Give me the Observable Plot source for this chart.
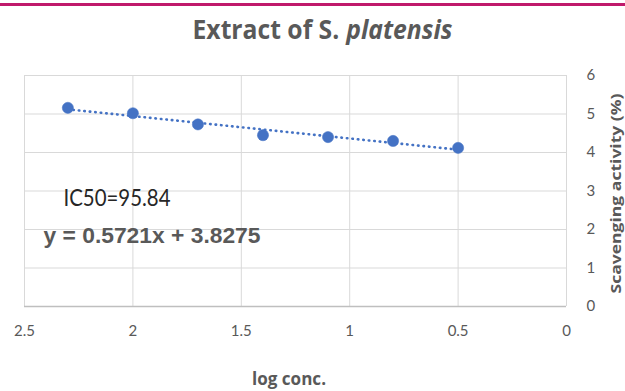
<!DOCTYPE html>
<html>
<head>
<meta charset="utf-8">
<script src="https://cdn.jsdelivr.net/npm/d3@7"></script>
<script src="https://cdn.jsdelivr.net/npm/@observablehq/plot@0.6"></script>
<style>
  html, body { margin: 0; padding: 0; background: #fff; }
  #wrap { position: relative; width: 625px; height: 391px; overflow: hidden; }
  #topline { position: absolute; left: 0; top: 3px; width: 625px; height: 3px; background: #C0196B; }
</style>
</head>
<body>
<div id="wrap"><div id="topline"></div></div>
<script>
// ---- data ----
const logConc = [2.3, 2.0, 1.7, 1.4, 1.1, 0.8, 0.5];
const scavenging = [5.16, 5.02, 4.73, 4.45, 4.40, 4.30, 4.12];
const xTicks = [2.5, 2, 1.5, 1, 0.5, 0];
const yTicks = [0, 1, 2, 3, 4, 5, 6];
const titleText = "Extract of S. platensis";
const titleParts = ["Extract of S.", "platensis"];
const xLabel = "log conc.";
const yLabel = "Scavenging activity (%)";
const ic50Label = "IC50=95.84";
const equationLabel = "y = 0.5721x + 3.8275";

const data = logConc.map((x, i) => ({x, y: scavenging[i]}));

const blue = "#4472C4";
const grey = "#595959";
const tickFont = "Lato, 'Open Sans', sans-serif";
const boldFont = "'Open Sans', sans-serif";

const chart = Plot.plot({
  width: 625,
  height: 391,
  marginLeft: 24,
  marginRight: 59,
  marginTop: 75,
  marginBottom: 85,
  style: {background: "transparent", overflow: "visible"},
  x: {domain: [2.5, 0], ticks: xTicks},
  y: {domain: [0, 6], ticks: yTicks},
  marks: [
    Plot.gridX(xTicks, {stroke: "#d9d9d9", strokeOpacity: 1, strokeWidth: 1}),
    Plot.gridY(yTicks, {stroke: "#d9d9d9", strokeOpacity: 1, strokeWidth: 1}),
    Plot.ruleY([0], {stroke: "#bfbfbf", strokeWidth: 1.3}),
    Plot.axisX({ticks: xTicks, tickSize: 0, tickPadding: 19, fontSize: 15, fontFamily: tickFont, fill: grey, label: null, tickFormat: d => String(d)}),
    Plot.axisY({anchor: "right", ticks: yTicks, tickSize: 0, tickPadding: 20, fontSize: 15, fontFamily: tickFont, fill: grey, label: null, tickFormat: d => String(d)}),
    Plot.linearRegressionY(data, {x: "x", y: "y", stroke: blue, strokeWidth: 2.6, strokeDasharray: "0.5,5", strokeLinecap: "round", ci: 0}),
    Plot.dot(data, {x: "x", y: "y", r: 5.6, fill: blue, stroke: blue, strokeWidth: 0.5}),
    Plot.text([ic50Label], {frameAnchor: "top-left", text: d => d, dx: 39, dy: 130, textAnchor: "start", lineAnchor: "bottom", fontSize: 23, fontFamily: tickFont, fill: "#262626"}),
    Plot.text([equationLabel], {frameAnchor: "top-left", text: d => d, dx: 19, dy: 167, textAnchor: "start", lineAnchor: "bottom", fontSize: 21.5, fontWeight: "bold", fontFamily: "'Liberation Sans', Arial, sans-serif", fill: grey}),
    Plot.text([titleText], {frameAnchor: "top", text: d => d, dx: 27, dy: -37, textAnchor: "middle", lineAnchor: "bottom", fontSize: 27, fontWeight: "bold", fontFamily: boldFont, fill: grey}),
    Plot.text([xLabel], {frameAnchor: "bottom", text: d => d, dx: -6.5, dy: 78, textAnchor: "middle", lineAnchor: "bottom", fontSize: 18.5, fontWeight: "bold", fontFamily: boldFont, fill: grey}),
    Plot.text([yLabel], {frameAnchor: "right", text: d => d, dx: 50, dy: 2.5, rotate: -90, textAnchor: "middle", lineAnchor: "middle", fontSize: 14, fontWeight: "bold", fontFamily: boldFont, fill: grey})
  ]
});
document.getElementById("wrap").prepend(chart);

// fit text widths to the reference (condensed lettering)
const fit = {};
fit[xLabel] = 74;
fit[yLabel] = 200;
fit[ic50Label] = 107;
fit[equationLabel] = 217;
d3.select(chart).selectAll("text").each(function() {
  const w = fit[this.textContent];
  if (w) d3.select(this).attr("textLength", w).attr("lengthAdjust", "spacingAndGlyphs");
});

// title: italic species name, each part condensed to fit 260px total with a word gap
const titleWidth = 260, titleGap = 7;
d3.select(chart).selectAll("text").filter(function() { return this.textContent === titleText; }).each(function() {
  const t = d3.select(this);
  t.text(null);
  const spans = titleParts.map((s, i) => t.append("tspan").attr("font-style", i === 1 ? "italic" : null).text(s));
  const widths = spans.map(s => s.node().getComputedTextLength());
  const k = (titleWidth - titleGap) / d3.sum(widths);
  spans.forEach((s, i) => s.attr("textLength", widths[i] * k).attr("lengthAdjust", "spacingAndGlyphs"));
  spans[1].attr("dx", titleGap);
});
</script>
</body>
</html>
